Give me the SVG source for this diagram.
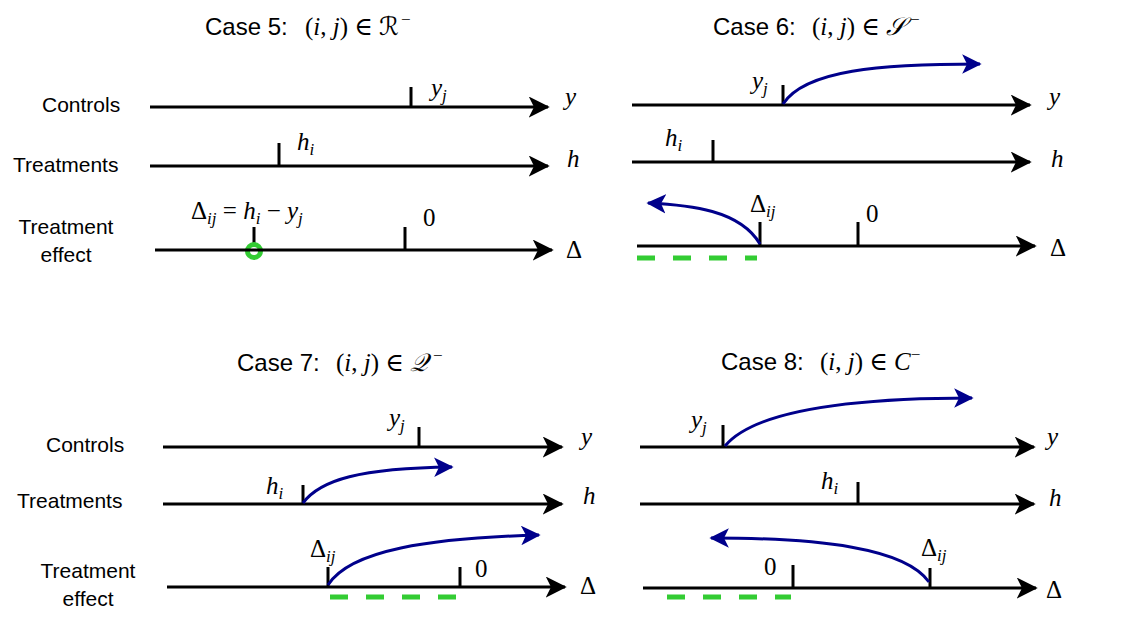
<svg xmlns="http://www.w3.org/2000/svg" width="1130" height="622" viewBox="0 0 1130 622">
<defs>
<marker id="ak" viewBox="0 0 12 12" refX="11" refY="6" markerWidth="7" markerHeight="7" markerUnits="strokeWidth" orient="auto"><path d="M0,0 L12,6 L0,12 L3,6 z" fill="#000"/></marker>
<marker id="ab" viewBox="0 0 12 12" refX="11" refY="6" markerWidth="6.5" markerHeight="6.5" markerUnits="strokeWidth" orient="auto"><path d="M0,0 L12,6 L0,12 L3,6 z" fill="#00008b"/></marker>
</defs>
<style>
.ax{stroke:#000;stroke-width:3;fill:none;marker-end:url(#ak)}
.tk{stroke:#000;stroke-width:3}
.bl{stroke:#00008b;stroke-width:3;fill:none;marker-end:url(#ab)}
.gd{stroke:#33cc33;stroke-width:5;stroke-dasharray:18 18}
.t{font-family:"Liberation Sans",Arial,sans-serif;font-size:24px;fill:#000}
.l{font-family:"Liberation Sans",Arial,sans-serif;font-size:21px;fill:#000}
.m{font-family:"Liberation Serif","DejaVu Serif",serif;font-style:italic;font-size:25px;fill:#000}
.n{font-family:"Liberation Serif","DejaVu Serif",serif;font-size:25px;fill:#000}
.s{font-size:17px}
</style>
<rect width="1130" height="622" fill="#fff"/>
<g id="case5">
<text class="t" x="205" y="35">Case 5:</text>
<text class="n" x="305" y="35">(<tspan font-style="italic">i</tspan>, <tspan font-style="italic">j</tspan>) ∈ <tspan font-family="DejaVu Sans" font-style="italic">ℛ</tspan><tspan class="s" dy="-10" dx="2">−</tspan></text>
<text class="l" x="42" y="112">Controls</text>
<text class="l" x="13" y="172">Treatments</text>
<text class="l" x="66" y="234" text-anchor="middle">Treatment</text>
<text class="l" x="66" y="262" text-anchor="middle">effect</text>
<line class="tk" x1="411" y1="87" x2="411" y2="107"/>
<line class="tk" x1="279" y1="143" x2="279" y2="166"/>
<line class="tk" x1="254" y1="227" x2="254" y2="250"/>
<line class="tk" x1="405" y1="227" x2="405" y2="250"/>
<circle cx="254" cy="251" r="6.5" fill="#fff" stroke="#33cc33" stroke-width="5"/>
<text class="m" x="431" y="96">y<tspan class="s" dy="5">j</tspan></text>
<text class="m" x="297" y="150">h<tspan class="s" dy="5">i</tspan></text>
<text class="m" x="191" y="219"><tspan font-style="normal">Δ</tspan><tspan class="s" dy="5">ij</tspan><tspan dy="-5" font-style="normal"> = </tspan>h<tspan class="s" dy="5">i</tspan><tspan dy="-5" font-style="normal"> − </tspan>y<tspan class="s" dy="5">j</tspan></text>
<text class="n" x="423" y="226">0</text>
<text class="m" x="565" y="105">y</text>
<text class="m" x="567" y="167">h</text>
<text class="n" x="566" y="258">Δ</text>
</g>
<g id="case6">
<text class="t" x="713" y="35">Case 6:</text>
<text class="n" x="812" y="35">(<tspan font-style="italic">i</tspan>, <tspan font-style="italic">j</tspan>) ∈ <tspan font-family="DejaVu Sans" font-style="italic">𝒮</tspan><tspan class="s" dy="-10" dx="5">−</tspan></text>
<line class="tk" x1="783" y1="85" x2="783" y2="105"/>
<line class="tk" x1="713" y1="140" x2="713" y2="162"/>
<line class="tk" x1="760" y1="222" x2="760" y2="246"/>
<line class="tk" x1="858" y1="222" x2="858" y2="246"/>
<text class="m" x="752" y="89">y<tspan class="s" dy="5">j</tspan></text>
<text class="m" x="665" y="146">h<tspan class="s" dy="5">i</tspan></text>
<text class="n" x="750" y="212">Δ<tspan class="s" dy="5" font-style="italic">ij</tspan></text>
<text class="n" x="866" y="222">0</text>
<text class="m" x="1049" y="105">y</text>
<text class="m" x="1051" y="167">h</text>
<text class="n" x="1050" y="256">Δ</text>
<line class="gd" x1="637" y1="258" x2="757" y2="258"/>
</g>
<g id="case7">
<text class="t" x="237" y="371">Case 7:</text>
<text class="n" x="336" y="371">(<tspan font-style="italic">i</tspan>, <tspan font-style="italic">j</tspan>) ∈ <tspan font-family="DejaVu Sans" font-style="italic">𝒬</tspan><tspan class="s" dy="-10" dx="5">−</tspan></text>
<text class="l" x="46" y="452">Controls</text>
<text class="l" x="17" y="508">Treatments</text>
<text class="l" x="88" y="578" text-anchor="middle">Treatment</text>
<text class="l" x="88" y="606" text-anchor="middle">effect</text>
<line class="tk" x1="419" y1="427" x2="419" y2="447"/>
<line class="tk" x1="303" y1="485" x2="303" y2="504"/>
<line class="tk" x1="328" y1="567" x2="328" y2="587"/>
<line class="tk" x1="460" y1="567" x2="460" y2="587"/>
<text class="m" x="389" y="426">y<tspan class="s" dy="5">j</tspan></text>
<text class="m" x="266" y="494">h<tspan class="s" dy="5">i</tspan></text>
<text class="n" x="310" y="557">Δ<tspan class="s" dy="5" font-style="italic">ij</tspan></text>
<text class="n" x="475" y="577">0</text>
<text class="m" x="581" y="445">y</text>
<text class="m" x="583" y="504">h</text>
<text class="n" x="580" y="594">Δ</text>
<line class="gd" x1="330" y1="597" x2="458" y2="597"/>
</g>
<g id="case8">
<text class="t" x="721" y="370">Case 8:</text>
<text class="n" x="820" y="370">(<tspan font-style="italic">i</tspan>, <tspan font-style="italic">j</tspan>) ∈ <tspan font-style="italic">C</tspan><tspan class="s" dy="-10">−</tspan></text>
<line class="tk" x1="723" y1="425" x2="723" y2="447"/>
<line class="tk" x1="858" y1="482" x2="858" y2="504"/>
<line class="tk" x1="793" y1="565" x2="793" y2="588"/>
<line class="tk" x1="930" y1="568" x2="930" y2="588"/>
<text class="m" x="691" y="428">y<tspan class="s" dy="5">j</tspan></text>
<text class="m" x="821" y="489">h<tspan class="s" dy="5">i</tspan></text>
<text class="n" x="921" y="556">Δ<tspan class="s" dy="5" font-style="italic">ij</tspan></text>
<text class="n" x="764" y="575">0</text>
<text class="m" x="1047" y="445">y</text>
<text class="m" x="1049" y="506">h</text>
<text class="n" x="1046" y="598">Δ</text>
<line class="gd" x1="667" y1="597" x2="791" y2="597"/>
</g>
<g id="connectors">
<line class="ax" x1="150" y1="107" x2="548" y2="107"/>
<line class="ax" x1="150" y1="166" x2="548" y2="166"/>
<line class="ax" x1="155" y1="250" x2="552" y2="250"/>
<line class="ax" x1="632" y1="105" x2="1030" y2="105"/>
<line class="ax" x1="632" y1="162" x2="1030" y2="162"/>
<line class="ax" x1="637" y1="246" x2="1035" y2="246"/>
<line class="ax" x1="163" y1="447" x2="562" y2="447"/>
<line class="ax" x1="163" y1="504" x2="562" y2="504"/>
<line class="ax" x1="167" y1="587" x2="565" y2="587"/>
<line class="ax" x1="640" y1="447" x2="1034" y2="447"/>
<line class="ax" x1="640" y1="504" x2="1034" y2="504"/>
<line class="ax" x1="643" y1="588" x2="1036" y2="588"/>
<path class="bl" d="M783,104 C805,70 880,64 980,64"/>
<path class="bl" d="M760,244 C740,210 690,205 648,203"/>
<path class="bl" d="M303,503 C320,480 360,468 452,467"/>
<path class="bl" d="M328,585 C350,550 430,538 539,535"/>
<path class="bl" d="M725,446 C755,410 850,398 972,398"/>
<path class="bl" d="M929,582 C905,548 820,538 711,538"/>
</g>
</svg>
